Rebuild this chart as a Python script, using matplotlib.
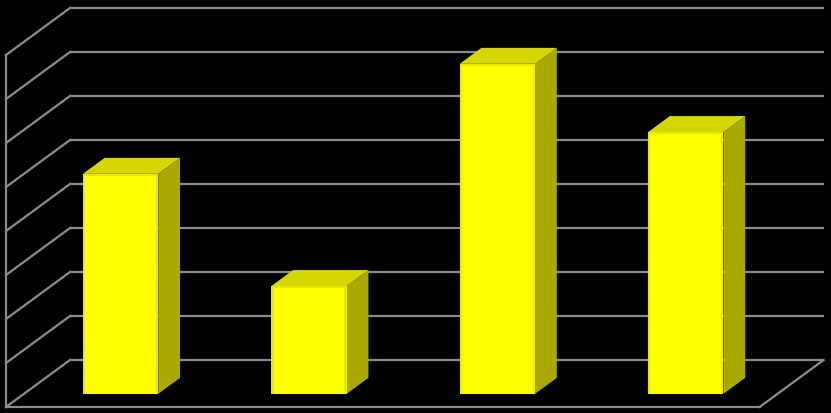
import matplotlib
matplotlib.use("Agg")
import matplotlib.pyplot as plt
from matplotlib.patches import Polygon, FancyBboxPatch

# ---- data ----
categories = ["A", "B", "C", "D"]
values = [5.0, 2.45, 7.5, 5.95]
grid_levels = [0, 1, 2, 3, 4, 5, 6, 7, 8]

# ---- oblique 3D projection in data units ----
DX = 64 / 188.4   # x shift per unit depth
DY = 47 / 44.0    # y shift per unit depth


def P(x, y, z):
    return (x + DX * z, y + DY * z)


W, H = 831, 414
fig = plt.figure(figsize=(W / 100, H / 100), dpi=100)
fig.patch.set_facecolor("black")
ax = fig.add_axes([0, 0, 1, 1])
ax.set_facecolor("black")
ax.set_xlim(-6 / 188.4, (W - 6) / 188.4)
ax.set_ylim(-6 / 44.0, 408 / 44.0)
ax.axis("off")

n = len(categories)
top = grid_levels[-1]
gc = "#8c8c8c"
lw = 1.6

# back wall gridlines
for g in grid_levels:
    a, b = P(0, g, 1), P(n, g, 1)
    ax.plot([a[0], b[0]], [a[1], b[1]], color=gc, lw=lw, solid_capstyle="butt")
    # left wall diagonals
    a, b = P(0, g, 0), P(0, g, 1)
    ax.plot([a[0], b[0]], [a[1], b[1]], color=gc, lw=lw)
# left wall front vertical edge
a, b = P(0, 0, 0), P(0, top, 0)
ax.plot([a[0], b[0]], [a[1], b[1]], color=gc, lw=lw)
# floor front edge and right edge
a, b = P(0, 0, 0), P(n, 0, 0)
ax.plot([a[0], b[0]], [a[1], b[1]], color=gc, lw=lw)
a, b = P(n, 0, 0), P(n, 0, 1)
ax.plot([a[0], b[0]], [a[1], b[1]], color=gc, lw=lw)

# bars
z0, d = 0.28, 0.34
half = 0.2
for i, v in enumerate(values):
    cx = i + 0.513
    x0, x1 = cx - half, cx + half
    # side face
    side = [P(x1, 0, z0), P(x1, 0, z0 + d), P(x1, v, z0 + d), P(x1, v, z0)]
    ax.add_patch(Polygon(side, closed=True, fc="#a9a900", ec="none", zorder=3))
    # top face
    topf = [P(x0, v, z0), P(x1, v, z0), P(x1, v, z0 + d), P(x0, v, z0 + d)]
    ax.add_patch(Polygon(topf, closed=True, fc="#d6d600", ec="none", zorder=3))
    # front face
    f0 = P(x0, 0, z0)
    f1 = P(x1, v, z0)
    ax.add_patch(Polygon([f0, (f1[0], f0[1]), f1, (f0[0], f1[1])], closed=True,
                         fc="#e8e800", ec="none", zorder=4))
    inset_x, inset_y = 0.012, 0.05
    ax.add_patch(Polygon([(f0[0] + inset_x, f0[1]), (f1[0] - inset_x, f0[1]),
                          (f1[0] - inset_x, f1[1] - inset_y), (f0[0] + inset_x, f1[1] - inset_y)],
                         closed=True, fc="#ffff00", ec="none", zorder=5))

fig.savefig("out.png", dpi=100, facecolor="black")
